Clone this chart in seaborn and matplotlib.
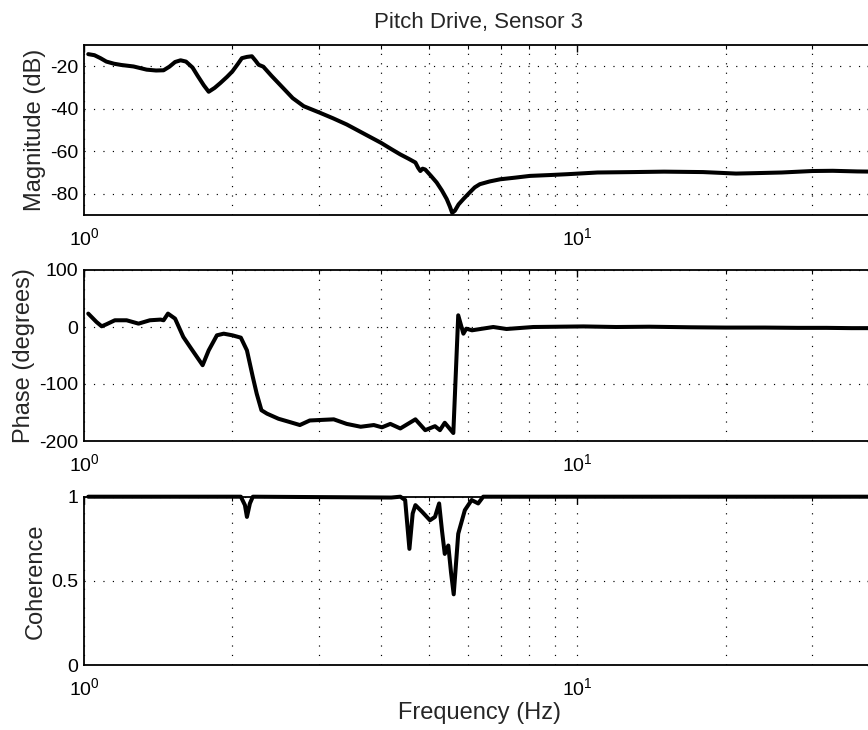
import matplotlib
matplotlib.use("Agg")
import matplotlib.pyplot as plt
import matplotlib.ticker as mticker
import numpy as np
import pandas as pd
import seaborn as sns

# Frequency response of the pitch drive measured at sensor 3
mag_freq = [1.02, 1.05, 1.08, 1.11, 1.15, 1.19, 1.26, 1.34, 1.40, 1.45, 1.49, 1.53,
            1.57, 1.61, 1.66, 1.70, 1.75, 1.79, 1.84, 1.89, 1.95, 2.00, 2.05, 2.09,
            2.14, 2.19, 2.23, 2.26, 2.31, 2.40, 2.54, 2.65, 2.79, 3.01, 3.20, 3.41,
            3.70, 4.00, 4.20, 4.38, 4.55, 4.70, 4.76, 4.81, 4.86, 4.92, 5.05, 5.19,
            5.32, 5.44, 5.52, 5.58, 5.65, 5.75, 5.88, 6.05, 6.20, 6.35, 6.65, 6.98,
            7.50, 8.02, 8.80, 9.55, 11.0, 13.0, 15.0, 18.0, 21.0, 23.0, 26.0, 30.0,
            33.0, 37.0, 40.0]
mag_db = [-14.3, -14.8, -16.2, -17.8, -18.8, -19.4, -20.1, -21.6, -22.0, -21.9, -20.2, -18.0,
          -17.2, -17.8, -20.6, -24.5, -29.0, -32.0, -30.2, -27.9, -25.0, -22.4, -19.0, -16.2,
          -15.6, -15.3, -17.5, -19.3, -20.2, -24.5, -30.5, -35.0, -38.8, -41.9, -44.5, -47.4,
          -51.8, -56.0, -59.0, -61.5, -63.5, -65.3, -67.8, -69.3, -68.2, -68.6, -71.5, -74.7,
          -78.5, -82.5, -86.0, -89.0, -88.0, -85.0, -82.5, -79.5, -77.0, -75.5, -74.2, -73.2,
          -72.4, -71.6, -71.2, -70.8, -70.0, -69.8, -69.6, -69.8, -70.5, -70.3, -70.0, -69.3,
          -69.2, -69.5, -69.6]

phase_freq = [1.02, 1.06, 1.086, 1.11, 1.155, 1.22, 1.29, 1.36, 1.43, 1.45, 1.48, 1.53,
              1.59, 1.65, 1.74, 1.79, 1.86, 1.92, 2.00, 2.08, 2.14, 2.20, 2.24, 2.29,
              2.35, 2.48, 2.62, 2.74, 2.87, 3.21, 3.41, 3.64, 3.87, 4.02, 4.18, 4.38,
              4.70, 4.92, 5.15, 5.27, 5.39, 5.61, 5.74, 5.88, 5.96, 6.12, 6.76, 7.19,
              8.15, 10.3, 12.0, 14.0, 17.0, 20.0, 24.0, 28.0, 32.0, 36.0, 40.0]
phase_deg = [23.5, 8.8, 1.2, 4.7, 11.8, 11.8, 5.9, 11.8, 13.0, 11.8, 23.5, 14.7,
             -17.5, -38.0, -67.0, -41.0, -14.6, -11.7, -14.6, -18.7, -41.0, -88.0, -117.0, -146.0,
             -152.0, -161.0, -167.0, -172.0, -164.0, -162.0, -170.0, -175.0, -172.0, -176.0, -170.0, -178.0,
             -162.0, -181.0, -174.0, -181.0, -168.0, -186.0, 20.5, -11.7, -2.9, -5.8, 0.0, -3.5,
             0.0, 1.0, 0.0, 0.5, -0.5, -1.0, -1.0, -1.5, -1.5, -2.0, -2.0]

coh_freq = [1.02, 2.08, 2.12, 2.14, 2.17, 2.20, 4.20, 4.38, 4.48, 4.57, 4.64, 4.70,
            4.85, 5.03, 5.15, 5.25, 5.32, 5.39, 5.48, 5.55, 5.62, 5.68, 5.74, 5.92,
            6.11, 6.30, 6.45, 40.0]
coherence = [1.0, 1.0, 0.95, 0.88, 0.96, 1.0, 0.995, 1.0, 0.98, 0.69, 0.90, 0.95,
             0.91, 0.86, 0.88, 0.96, 0.80, 0.66, 0.71, 0.55, 0.42, 0.60, 0.78, 0.92,
             0.98, 0.96, 1.0, 1.0]

title = "Pitch Drive, Sensor 3"
x_label = "Frequency (Hz)"
panels = [
    ("Magnitude (dB)", mag_freq, mag_db, (-90, -10), [-80, -60, -40, -20]),
    ("Phase (degrees)", phase_freq, phase_deg, (-200, 100), [-200, -100, 0, 100]),
    ("Coherence", coh_freq, coherence, (0, 1), [0, 0.5, 1]),
]

sns.set_style("white")
plt.rcParams["font.family"] = ["Liberation Sans", "DejaVu Sans"]
plt.rcParams["axes.unicode_minus"] = False

fig = plt.figure(figsize=(8.68, 7.30), dpi=100)
W, H = 868.0, 730.0
left_px, right_px = 84.0, 874.0
boxes = [(45.0, 215.0), (270.0, 441.0), (496.7, 665.0)]

axes = []
for (top_px, bot_px) in boxes:
    ax = fig.add_axes([left_px / W, 1 - bot_px / H,
                       (right_px - left_px) / W, (bot_px - top_px) / H])
    axes.append(ax)

for ax, (ylab, fx, fy, ylim, yticks) in zip(axes, panels):
    df = pd.DataFrame({"f": fx, "v": fy})
    sns.lineplot(data=df, x="f", y="v", ax=ax, color="black", linewidth=2.9,
                 sort=False, estimator=None)
    ax.set_xscale("log")
    ax.set_xlim(1, 40)
    ax.set_ylim(*ylim)
    ax.set_yticks(yticks)
    ax.yaxis.set_major_formatter(mticker.FuncFormatter(lambda v, p: f"{v:g}"))
    ax.xaxis.set_major_locator(mticker.LogLocator(base=10))
    ax.xaxis.set_minor_locator(mticker.LogLocator(base=10, subs=np.arange(2, 10)))
    ax.xaxis.set_minor_formatter(mticker.NullFormatter())
    ax.grid(True, which="major", axis="both", color="black",
            linestyle=(0, (1, 7)), linewidth=0.85)
    ax.grid(True, which="minor", axis="x", color="black",
            linestyle=(0, (1, 7)), linewidth=0.85)
    ax.tick_params(which="both", direction="in", top=True, right=True,
                   labelsize=14, colors="black")
    ax.tick_params(axis="y", pad=4)
    ax.tick_params(axis="x", pad=9)
    ax.tick_params(which="major", length=5, width=1)
    ax.tick_params(which="minor", length=3, width=0.8)
    for sp in ax.spines.values():
        sp.set_visible(True)
        sp.set_color("black")
        sp.set_linewidth(1.3)
    ax.set_ylabel(ylab, fontsize=17, labelpad=3)
    ax.set_xlabel("")

# the unity-coherence line sits on the top frame
axes[2].lines[0].set_clip_on(False)

axes[0].set_title(title, fontsize=16, pad=12)
axes[2].set_xlabel(x_label, fontsize=17, labelpad=2)

fig.savefig("out.png", dpi=100, facecolor="white")
